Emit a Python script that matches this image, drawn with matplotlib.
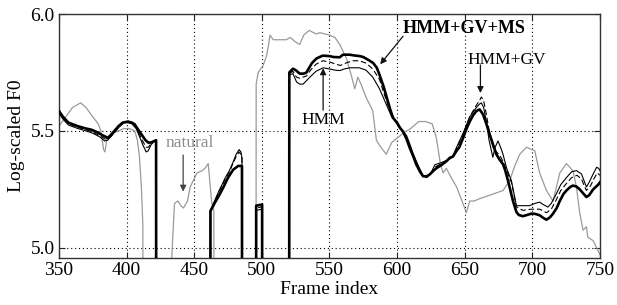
import numpy as np
import matplotlib
matplotlib.use("Agg")
import matplotlib.pyplot as plt

plt.rcParams['font.family'] = ['Liberation Serif', 'DejaVu Serif']
plt.rcParams['mathtext.fontset'] = 'stix'

# ---------------- data (0.0 = unvoiced frame) ----------------
nat_frames = [350, 355, 360, 366, 370, 375, 379, 381, 383, 384, 385.5, 389, 394, 398, 402, 406, 408,
              409.5, 411, 412, 412.5, 432.5, 433.2, 435.4, 438, 440, 442, 445, 447, 452, 456, 458,
              460.3, 461, 462, 463, 464.5, 465, 495.2, 495.8, 497.3, 499.7, 501, 503.4, 505, 506,
              508.4, 512, 518, 521, 525, 528, 531, 535, 540, 543, 550, 554, 557.6, 560, 562.6, 566,
              568.7, 571, 574, 577.3, 580, 582, 584.7, 588, 592, 596, 604.5, 610, 616, 621, 626,
              629, 632, 634, 636.4, 640, 644, 648, 651.2, 653.7, 657, 661, 666, 671, 678.4, 683.4,
              687, 690.7, 695.6, 701.8, 705.4, 710.4, 715.3, 720.3, 725.2, 730, 732.6, 735, 737.5,
              740, 741, 745, 747.5, 750]
nat_values = [5.52, 5.56, 5.60, 5.62, 5.60, 5.56, 5.53, 5.50, 5.42, 5.41, 5.47, 5.49, 5.50, 5.51, 5.51,
              5.50, 5.46, 5.39, 5.25, 5.10, 0.0, 0.0, 4.94, 5.19, 5.20, 5.18, 5.17, 5.20, 5.26, 5.32,
              5.33, 5.34, 5.36, 5.32, 5.25, 5.19, 5.16, 0.0, 0.0, 5.70, 5.75, 5.77, 5.78, 5.82, 5.87,
              5.91, 5.89, 5.89, 5.89, 5.90, 5.88, 5.87, 5.91, 5.93, 5.915, 5.92, 5.91, 5.90, 5.87,
              5.84, 5.81, 5.74, 5.68, 5.73, 5.69, 5.64, 5.61, 5.585, 5.46, 5.43, 5.40, 5.45, 5.49,
              5.51, 5.54, 5.54, 5.53, 5.47, 5.36, 5.32, 5.34, 5.30, 5.26, 5.20, 5.15, 5.20, 5.20,
              5.21, 5.22, 5.23, 5.245, 5.29, 5.35, 5.40, 5.43, 5.415, 5.32, 5.245, 5.20, 5.32, 5.36,
              5.33, 5.26, 5.15, 5.075, 5.09, 5.045, 5.03, 5.00, 4.97]

ms_frames = [350, 353, 357, 364, 370, 374, 378, 381, 386, 388, 391, 394, 397, 401, 404, 406, 408,
             411, 414, 416, 418, 420.6, 421.8, 422.2, 461.4, 462, 465, 468, 471.4, 475, 478.8, 482.5,
             485.3, 485.7, 495.5, 495.8, 500.2, 500.5, 519.8, 520.3, 523, 525, 528, 531, 533, 537,
             540.4, 545, 550, 553, 557.6, 560, 565, 568, 572.4, 575, 579.8, 582.4, 585, 587, 590,
             592, 595, 597, 600, 602, 604.4, 607, 609.3, 612, 614.3, 617, 619.2, 621.7, 624, 627,
             629, 633, 636.4, 639, 641.3, 644, 646, 648.8, 651, 653.7, 656, 658.6, 661, 663.5, 666,
             668.4, 671, 673.4, 676, 678.3, 680, 682, 684, 685.7, 688.2, 690, 693, 696, 699.3, 702,
             705.4, 708, 710.4, 713, 715.3, 718, 720.3, 723, 725.2, 728, 730, 732.6, 735, 738, 740,
             742, 745, 748.7, 750]
ms_values = [5.585, 5.56, 5.535, 5.52, 5.51, 5.505, 5.495, 5.485, 5.47, 5.48, 5.50, 5.52, 5.535, 5.54,
             5.535, 5.528, 5.51, 5.485, 5.46, 5.45, 5.45, 5.457, 5.46, 0.0, 0.0, 5.157, 5.19, 5.22,
             5.257, 5.30, 5.334, 5.35, 5.35, 0.0, 0.0, 5.18, 5.185, 0.0, 0.0, 5.75, 5.766, 5.76,
             5.745, 5.745, 5.75, 5.79, 5.81, 5.822, 5.82, 5.816, 5.815, 5.826, 5.826, 5.823, 5.82,
             5.816, 5.80, 5.79, 5.77, 5.74, 5.69, 5.65, 5.59, 5.556, 5.535, 5.514, 5.497, 5.465,
             5.428, 5.39, 5.355, 5.325, 5.306, 5.305, 5.313, 5.33, 5.34, 5.355, 5.37, 5.385, 5.39,
             5.415, 5.43, 5.47, 5.505, 5.54, 5.565, 5.585, 5.592, 5.571, 5.53, 5.486, 5.44, 5.40,
             5.375, 5.358, 5.33, 5.287, 5.24, 5.20, 5.153, 5.14, 5.135, 5.14, 5.146, 5.145, 5.139,
             5.128, 5.12, 5.13, 5.146, 5.17, 5.20, 5.23, 5.245, 5.26, 5.266, 5.262, 5.25, 5.23,
             5.217, 5.225, 5.25, 5.27, 5.28]

hmm_frames = [350, 353, 357, 364, 370, 375, 380, 383.7, 386, 389, 392, 395, 398, 401, 404, 407, 410,
              412, 414.5, 416, 418, 420.6, 421.8, 422.2, 461.4, 462, 465, 468, 471.4, 473, 476, 479,
              481, 483.2, 484.5, 485.3, 485.7, 495.5, 495.8, 500.2, 500.5, 519.8, 520.3, 523, 525.6,
              528, 530.5, 533, 535.5, 540, 545.3, 550, 554, 557.6, 561, 565, 572, 577, 582, 587,
              590, 593, 596, 600, 604, 607, 609, 612, 615, 619, 622, 625, 628, 633, 638, 641, 644,
              648.8, 653.7, 658.6, 661, 662.3, 664, 666, 668, 670.8, 672.5, 674.6, 676.5, 678.3, 681,
              684.5, 686.5, 688.2, 692, 698, 702, 705.4, 708, 711.5, 714, 717.7, 721, 725.2, 729,
              732.6, 736.3, 738, 740, 742, 745, 747.5, 749, 750]
hmm_values = [5.575, 5.55, 5.525, 5.51, 5.50, 5.49, 5.475, 5.457, 5.46, 5.48, 5.50, 5.52, 5.535, 5.535,
              5.53, 5.51, 5.47, 5.44, 5.41, 5.415, 5.44, 5.457, 5.46, 0.0, 0.0, 5.16, 5.20, 5.24, 5.28,
              5.30, 5.33, 5.37, 5.40, 5.42, 5.41, 5.385, 0.0, 0.0, 5.16, 5.165, 0.0, 0.0, 5.74, 5.745,
              5.71, 5.70, 5.70, 5.715, 5.73, 5.755, 5.77, 5.765, 5.76, 5.758, 5.765, 5.77, 5.77, 5.76,
              5.73, 5.68, 5.64, 5.60, 5.56, 5.53, 5.50, 5.48, 5.45, 5.40, 5.36, 5.31, 5.30, 5.32,
              5.355, 5.365, 5.377, 5.39, 5.43, 5.49, 5.56, 5.60, 5.615, 5.62, 5.60, 5.54, 5.46, 5.387,
              5.43, 5.457, 5.43, 5.40, 5.34, 5.287, 5.23, 5.18, 5.18, 5.18, 5.19, 5.195, 5.185,
              5.174, 5.19, 5.23, 5.27, 5.30, 5.325, 5.33, 5.316, 5.29, 5.26, 5.28, 5.316, 5.344,
              5.34, 5.33]

gv_frames = [350, 353, 357, 364, 370, 375, 380, 384, 386, 389, 392, 395, 398, 401, 404, 407, 410,
             412, 414.5, 416, 418, 420.6, 421.8, 422.2, 461.4, 462, 465, 468, 471.4, 473, 476, 479,
             481, 483.2, 484.5, 485.3, 485.7, 495.5, 495.8, 500.2, 500.5, 519.8, 520.3, 523, 525.6,
             528, 530.5, 533, 536, 540, 545, 550, 555, 558, 562, 567, 572, 577, 582, 587, 590, 593,
             596, 600, 604, 607, 609, 612, 615, 619, 622, 625, 628, 633, 638, 641, 644, 648.8,
             653.7, 658.6, 661, 662.3, 664, 666, 668.4, 671, 673.4, 676, 678.3, 681, 684.5, 686.5,
             688.2, 693, 699, 705.4, 710.4, 714, 717.7, 721, 725.2, 729, 733, 736.3, 738, 740, 743,
             746, 748, 750]
gv_values = [5.58, 5.555, 5.53, 5.515, 5.505, 5.495, 5.48, 5.465, 5.465, 5.48, 5.50, 5.52, 5.535,
             5.537, 5.532, 5.515, 5.48, 5.455, 5.43, 5.43, 5.445, 5.457, 5.46, 0.0, 0.0, 5.16, 5.195,
             5.235, 5.275, 5.295, 5.325, 5.365, 5.39, 5.41, 5.40, 5.38, 0.0, 0.0, 5.17, 5.175, 0.0,
             0.0, 5.745, 5.755, 5.73, 5.725, 5.73, 5.735, 5.76, 5.785, 5.80, 5.795, 5.785, 5.78,
             5.79, 5.80, 5.80, 5.79, 5.765, 5.72, 5.665, 5.615, 5.565, 5.535, 5.50, 5.475, 5.445,
             5.40, 5.355, 5.31, 5.305, 5.315, 5.345, 5.36, 5.375, 5.39, 5.425, 5.485, 5.56, 5.61,
             5.63, 5.645, 5.63, 5.57, 5.49, 5.43, 5.41, 5.395, 5.37, 5.33, 5.28, 5.225, 5.175, 5.16,
             5.165, 5.165, 5.15, 5.165, 5.205, 5.245, 5.275, 5.30, 5.31, 5.295, 5.27, 5.245, 5.265,
             5.30, 5.32, 5.31]

xticks = [350, 400, 450, 500, 550, 600, 650, 700, 750]
yticks = [5.0, 5.5, 6.0]
ytick_labels = ["5.0", "5.5", "6.0"]

# ---------------- plot ----------------
fig = plt.figure(figsize=(6.17, 3.05), dpi=100)
ax = fig.add_axes([0.0956, 0.154, 0.8768, 0.800])

ax.plot(nat_frames, nat_values, color='#9a9a9a', lw=0.9, zorder=2)
ax.plot(hmm_frames, hmm_values, color='black', lw=0.8, zorder=3)
ax.plot(gv_frames, gv_values, color='black', lw=0.8, ls=(0, (5, 2.5)), zorder=3)
ax.plot(ms_frames, ms_values, color='black', lw=1.9, zorder=4)

ax.set_xlim(350, 750)
ax.set_ylim(4.956, 6.0)
ax.set_xticks(xticks)
ax.set_yticks(yticks)
ax.set_yticklabels(ytick_labels)
ax.grid(True, color='black', ls=(0, (1, 2.5)), lw=0.8)
ax.tick_params(direction='in', length=4, width=0.8, labelsize=14, top=True, right=True, pad=3,
               colors='#222222', labelcolor='black')
for s in ax.spines.values():
    s.set_color('#333333')
    s.set_linewidth(1.0)

ax.set_xlabel('Frame index', fontsize=14, labelpad=1)
ax.set_ylabel('Log-scaled F0', fontsize=14, labelpad=4)

arrow_kw = dict(arrowstyle='-|>', color='#111111', lw=0.9, mutation_scale=9, shrinkA=0, shrinkB=0)

ax.text(604.2, 5.94, 'HMM+GV+MS', fontsize=13, fontweight='bold', ha='left', va='center')
ax.annotate('', xy=(587.5, 5.785), xytext=(604.4, 5.905), arrowprops=arrow_kw)

ax.text(652.2, 5.803, 'HMM+GV', fontsize=12.5, ha='left', va='center')
ax.annotate('', xy=(661.6, 5.662), xytext=(661.6, 5.782), arrowprops=arrow_kw)

ax.text(529.5, 5.546, 'HMM', fontsize=12.5, ha='left', va='center')
ax.annotate('', xy=(545.3, 5.768), xytext=(545.3, 5.589), arrowprops=arrow_kw)

ax.text(429, 5.448, 'natural', fontsize=12.5, ha='left', va='center', color='#8c8c8c')
nat_arrow = dict(arrow_kw)
nat_arrow['color'] = '#444444'
ax.annotate('', xy=(441.8, 5.24), xytext=(441.8, 5.397), arrowprops=nat_arrow)

fig.savefig('out.png', dpi=100)
